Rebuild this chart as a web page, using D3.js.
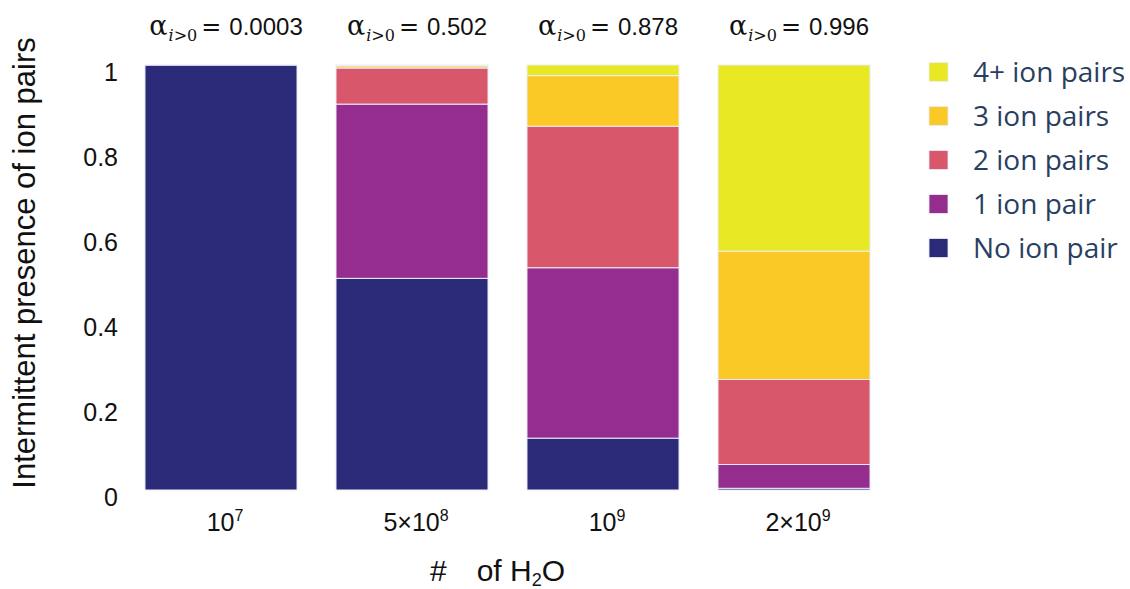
<!DOCTYPE html>
<html>
<head>
<meta charset="utf-8">
<script src="https://cdn.jsdelivr.net/npm/d3@7"></script>
<style>
  html, body { margin: 0; padding: 0; background: #ffffff; }
  svg { display: block; }
</style>
</head>
<body>
<svg id="chart" width="1130" height="589"></svg>
<script>
// System sizes (number of water molecules) and their tick labels
const categories = ["1e7", "5e8", "1e9", "2e9"];
const tickBase = ["10", "5×10", "10", "2×10"];
const tickExp = ["7", "8", "9", "9"];

// Fraction of time with at least one ion pair present
const alphaLabels = ["0.0003", "0.502", "0.878", "0.996"];

// Stacked fractions, bottom to top
const noIonPair    = [0.9997, 0.498, 0.122, 0.004];
const oneIonPair   = [0.0003, 0.410, 0.401, 0.056];
const twoIonPairs  = [0.0,    0.085, 0.333, 0.200];
const threeIonPairs= [0.0,    0.005, 0.119, 0.302];
const fourPlusPairs= [0.0,    0.002, 0.025, 0.438];

const seriesNames  = ["No ion pair", "1 ion pair", "2 ion pairs", "3 ion pairs", "4+ ion pairs"];
const seriesColors = ["#2a2a78", "#952d8f", "#d8576b", "#fbc926", "#e8e824"];
const yTicks = [0, 0.2, 0.4, 0.6, 0.8, 1];

const seriesValues = [noIonPair, oneIonPair, twoIonPairs, threeIonPairs, fourPlusPairs];
const rows = categories.map((c, i) => {
  const r = { cat: c };
  seriesNames.forEach((s, k) => r[s] = seriesValues[k][i]);
  return r;
});

const svg = d3.select("#chart");
const sans = "'Liberation Sans', Arial, sans-serif";

const x = d3.scaleBand()
  .domain(categories)
  .range([125.5, 889.5])
  .paddingInner(0.204)
  .paddingOuter(0.102);

const y = d3.scaleLinear().domain([0, 1]).range([490, 65]);

const color = d3.scaleOrdinal().domain(seriesNames).range(seriesColors);

const stacked = d3.stack().keys(seriesNames)(rows);

// Stacked bars
svg.append("g")
  .selectAll("g")
  .data(stacked)
  .join("g")
    .attr("fill", d => color(d.key))
  .selectAll("rect")
  .data(d => d)
  .join("rect")
    .attr("x", d => x(d.data.cat))
    .attr("width", x.bandwidth())
    .attr("y", d => y(d[1]))
    .attr("height", d => Math.max(0, y(d[0]) - y(d[1])))
    .attr("stroke", "#eceef9")
    .attr("stroke-width", 1);

// Y axis (labels only)
const yAxis = svg.append("g")
  .attr("transform", "translate(125,0)")
  .call(d3.axisLeft(y)
    .tickValues(yTicks)
    .tickSize(0)
    .tickPadding(7)
    .tickFormat(d => (d === 0 || d === 1) ? String(d) : d3.format(".1f")(d)));
yAxis.select(".domain").remove();
yAxis.selectAll("text")
  .attr("dy", "0.6em")
  .attr("fill", "#111")
  .style("font-family", sans)
  .style("font-size", "25px");

// X axis with power-of-ten labels
const xAxis = svg.append("g")
  .attr("transform", "translate(0,490)")
  .call(d3.axisBottom(x).tickSize(0).tickPadding(23).tickFormat(""));
xAxis.select(".domain").remove();
xAxis.selectAll(".tick text").each(function(d) {
  const i = categories.indexOf(d);
  const t = d3.select(this)
    .attr("dx", 4)
    .attr("fill", "#111")
    .style("font-family", sans)
    .style("font-size", "25px");
  t.text(null);
  t.append("tspan").text(tickBase[i]);
  t.append("tspan").attr("dy", -10).style("font-size", "16px").text(tickExp[i]);
});

// Y axis title
svg.append("text")
  .attr("transform", "translate(35,263) rotate(-90)")
  .attr("text-anchor", "middle")
  .attr("fill", "#111")
  .style("font-family", sans)
  .style("font-size", "31px")
  .text("Intermittent presence of ion pairs");

// X axis title: "#  of H2O"
const xTitle = svg.append("text")
  .attr("x", (x.range()[0] + x.range()[1]) / 2 - 10)
  .attr("y", 581)
  .attr("text-anchor", "middle")
  .attr("fill", "#111")
  .style("font-family", sans)
  .style("font-size", "30px");
xTitle.append("tspan").text("#");
xTitle.append("tspan").attr("dx", 30).text("of H");
xTitle.append("tspan").attr("dy", 5).style("font-size", "18px").text("2");
xTitle.append("tspan").attr("dy", -5).text("O");

// α labels above each bar
categories.forEach((c, i) => {
  const t = svg.append("text")
    .attr("x", x(c) + x.bandwidth() / 2 + 5)
    .attr("y", 35)
    .attr("text-anchor", "middle")
    .attr("fill", "#111");
  t.append("tspan")
    .style("font-family", "'DejaVu Serif', serif")
    .style("font-size", "27px")
    .text("α");
  t.append("tspan")
    .attr("dy", 6)
    .attr("dx", 1)
    .style("font-family", "'DejaVu Serif', serif")
    .style("font-style", "italic")
    .style("font-size", "16px")
    .text("i");
  t.append("tspan")
    .style("font-family", "'DejaVu Serif', serif")
    .style("font-size", "16px")
    .text(">0");
  t.append("tspan")
    .attr("dy", -6)
    .attr("dx", 4)
    .style("font-family", "'DejaVu Sans', sans-serif")
    .style("font-size", "24px")
    .text("=");
  t.append("tspan")
    .attr("dx", 8)
    .style("font-family", sans)
    .style("font-size", "24px")
    .text(alphaLabels[i]);
});

// Legend, top entry is the highest stack layer
const legendOrder = seriesNames.slice().reverse();
const legend = svg.append("g")
  .selectAll("g")
  .data(legendOrder)
  .join("g")
    .attr("transform", (d, i) => `translate(929,${72 + i * 44})`);
legend.append("rect")
  .attr("x", 0).attr("y", -9.5)
  .attr("width", 19).attr("height", 19)
  .attr("fill", d => color(d))
  .attr("stroke", "#eceef9")
  .attr("stroke-width", 0.8);
legend.append("text")
  .attr("x", 44)
  .attr("y", 10)
  .attr("fill", "#2a3f5f")
  .style("font-family", "'Open Sans', sans-serif")
  .style("font-size", "28px")
  .text(d => d);
</script>
</body>
</html>
